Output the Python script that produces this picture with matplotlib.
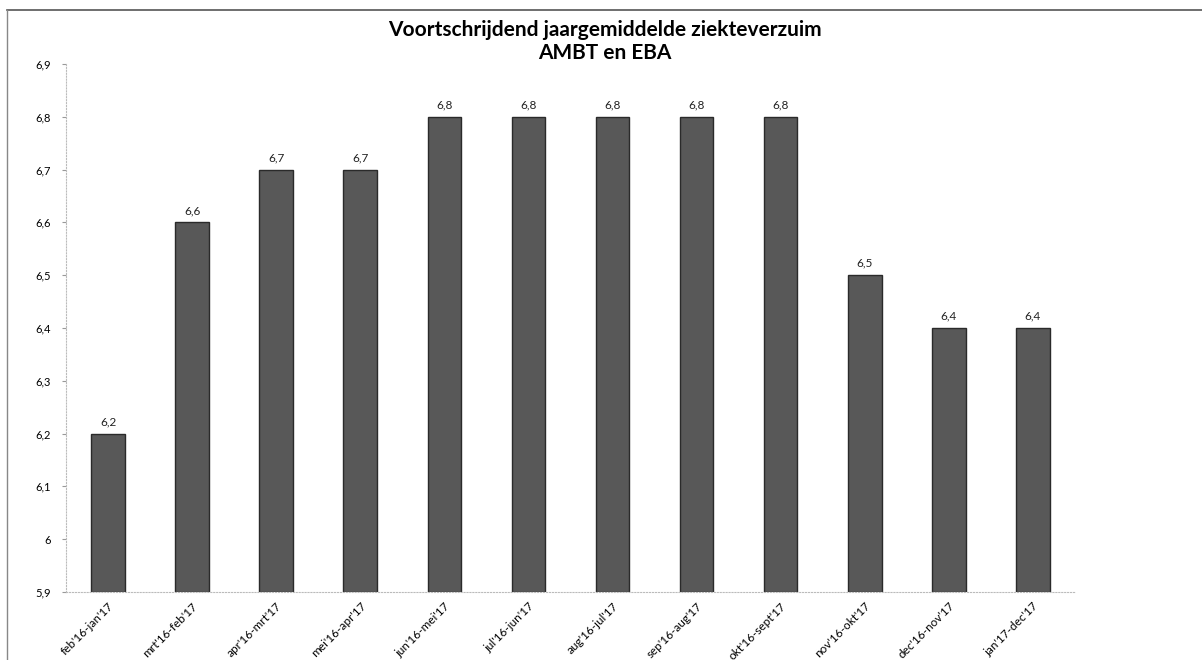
import matplotlib.pyplot as plt
import numpy as np

# lettertype
plt.rcParams['font.family'] = ['Lato', 'DejaVu Sans']

# data
perioden = ["feb'16-jan'17", "mrt'16-feb'17", "apr'16-mrt'17", "mei'16-apr'17",
            "jun'16-mei'17", "jul'16-jun'17", "aug'16-jul'17", "sep'16-aug'17",
            "okt'16-sept'17", "nov'16-okt'17", "dec'16-nov'17", "jan'17-dec'17"]
verzuim = [6.2, 6.6, 6.7, 6.7, 6.8, 6.8, 6.8, 6.8, 6.8, 6.5, 6.4, 6.4]
y_ticks = [5.9, 6.0, 6.1, 6.2, 6.3, 6.4, 6.5, 6.6, 6.7, 6.8, 6.9]

fig = plt.figure(figsize=(12.02, 6.6), dpi=100)
ax = fig.add_axes([0.0549, 0.103, 0.8394, 0.8])

x = np.arange(len(perioden))
ax.bar(x, [v - 5.9 for v in verzuim], bottom=5.9, width=0.4,
       color='#585858', edgecolor='#2a2a2a', linewidth=1.0)

# waarden boven de staven
for xi, v in zip(x, verzuim):
    ax.text(xi, v + 0.012, f'{v:.1f}'.replace('.', ','), ha='center', va='bottom',
            fontsize=8.5, color='#222222')

ax.set_xlim(-0.5, len(perioden) - 0.5)
ax.set_ylim(5.9, 6.9)
ax.set_yticks(y_ticks)
ax.set_yticklabels([('6' if abs(t - 6) < 1e-9 else f'{t:.1f}'.replace('.', ',')) for t in y_ticks],
                   fontsize=8)
ax.set_xticks(x)
ax.set_xticklabels(perioden, rotation=45, ha='right', rotation_mode='anchor', fontsize=8.5)
ax.tick_params(axis='x', length=0, pad=6)
ax.tick_params(axis='y', length=3, color='#999999', pad=8)

for s in ['top', 'right']:
    ax.spines[s].set_visible(False)
for s in ['left', 'bottom']:
    ax.spines[s].set_color('#bbbbbb')
    ax.spines[s].set_linestyle(':')
    ax.spines[s].set_linewidth(0.8)

# titel
fig.text(0.503, 0.97, 'Voortschrijdend jaargemiddelde ziekteverzuim\nAMBT en EBA',
         ha='center', va='top', fontsize=15, fontweight='bold', linespacing=1.2)

# rand van het kader
fig.add_artist(plt.Line2D([0.006, 1.0], [0.985, 0.985], color='#555555', linewidth=1.2))
fig.add_artist(plt.Line2D([0.006, 0.006], [0.0, 0.985], color='#888888', linewidth=1.0))

fig.savefig('out.png', dpi=100)
